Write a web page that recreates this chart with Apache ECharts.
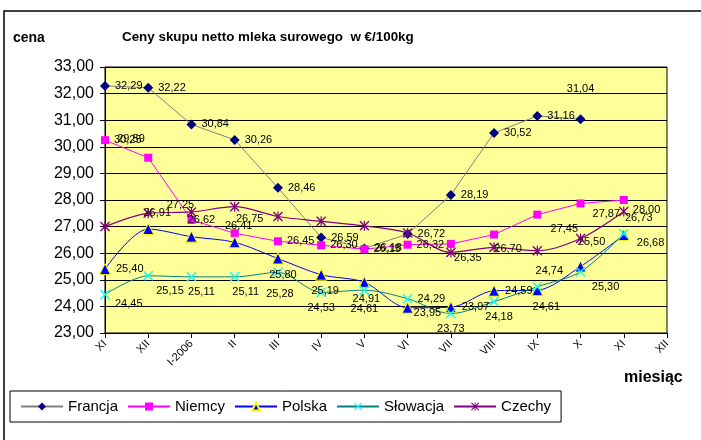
<!DOCTYPE html>
<html>
<head>
<meta charset="utf-8">
<script src="https://cdn.jsdelivr.net/npm/echarts@6/dist/echarts.min.js"></script>
<style>
  html, body { margin: 0; padding: 0; background: #fff; }
  #chart { width: 701px; height: 440px; }
</style>
</head>
<body>
<div id="chart"></div>
<script>
const months = ['XI', 'XII', 'I-2006', 'II', 'III', 'IV', 'V', 'VI', 'VII', 'VIII', 'IX', 'X', 'XI', 'XII']

const francja = [32.29, 32.22, 30.84, 30.26, 28.46, 26.59, 26.18, 26.72, 28.19, 30.52, 31.16, 31.04]
const niemcy = [30.25, 29.59, 27.25, 26.75, 26.45, 26.30, 26.15, 26.32, 26.35, 26.70, 27.45, 27.87, 28.00]
const polska = [25.40, 26.91, 26.62, 26.41, 25.80, 25.19, 24.91, 23.95, 23.97, 24.59, 24.61, 25.50, 26.68]
const slowacja = [24.45, 25.15, 25.11, 25.11, 25.28, 24.53, 24.61, 24.29, 23.73, 24.18, 24.74, 25.30, 26.73]
const czechy = [27.00, 27.50, 27.55, 27.75, 27.38, 27.20, 27.03, 26.76, 26.03, 26.22, 26.09, 26.55, 27.57]

const yTicks = { min: 23, max: 33, step: 1 }

const FONT = '"Liberation Sans", Arial, sans-serif'
const fmt = (v) => v.toFixed(2).replace('.', ',')

// label placement: default per series, a few points moved like in the sheet
function withLabels(values, tweaks) {
  return values.map((v, i) => {
    const t = tweaks[i]
    if (!t) return v
    return { value: v, label: { position: t[0], offset: [t[1], t[2]], distance: t[3] ?? 5 } }
  })
}

const crossPath = 'path://M0,1 L1,0 L5,4 L9,0 L10,1 L6,5 L10,9 L9,10 L5,6 L1,10 L0,9 L4,5 Z'
const starPath = crossPath.replace(' Z', ' Z M4.4,0 L5.6,0 L5.6,10 L4.4,10 Z')

const chart = echarts.init(document.getElementById('chart'), null, { renderer: 'canvas' })

function lineSeries(name, data, labelPos, opts) {
  return Object.assign({
    name,
    type: 'line',
    data,
    symbolSize: 9,
    lineStyle: { width: 1 },
    label: {
      show: true,
      position: labelPos,
      color: '#000',
      fontSize: 11,
      fontFamily: FONT,
      formatter: (p) => fmt(typeof p.value === 'number' ? p.value : p.data.value),
    },
    emphasis: { disabled: true },
    animation: false,
  }, opts)
}

chart.setOption({
  textStyle: { fontFamily: FONT },
  graphic: [
    {
      type: 'rect',
      shape: { x: 4, y: 11, width: 740, height: 460 },
      style: { fill: 'none', stroke: '#000', lineWidth: 1.5 },
      silent: true,
    },
    {
      type: 'text', left: 13, top: 31,
      style: { text: 'cena', font: 'bold 14px ' + FONT, fill: '#000' },
    },
    {
      type: 'text', left: 122, top: 31,
      style: { text: 'Ceny skupu netto mleka surowego  w €/100kg', font: 'bold 13.4px ' + FONT, fill: '#000' },
    },
    {
      type: 'text', left: 624, top: 370,
      style: { text: 'miesiąc', font: 'bold 16px ' + FONT, fill: '#000' },
    },
  ],
  legend: {
    left: 10,
    top: 391,
    padding: [8, 10],
    itemWidth: 42,
    itemHeight: 10,
    itemGap: 9,
    backgroundColor: '#fff',
    borderColor: '#000',
    borderWidth: 1,
    textStyle: { fontSize: 15, color: '#000', fontFamily: FONT },
    data: ['Francja', 'Niemcy', 'Polska', 'Słowacja', 'Czechy'],
  },
  grid: {
    left: 105, right: 34, top: 67, bottom: 107,
    show: true,
    backgroundColor: '#FFFF99',
    borderColor: '#000',
    borderWidth: 1,
  },
  xAxis: {
    type: 'category',
    boundaryGap: false,
    data: months,
    axisLine: { lineStyle: { color: '#000', width: 1 } },
    axisTick: { show: true, interval: 0, length: 5, lineStyle: { color: '#000' } },
    axisLabel: { interval: 0, rotate: 45, fontSize: 11, color: '#000', margin: 9, fontFamily: FONT },
    splitLine: { show: false },
  },
  yAxis: {
    type: 'value',
    min: yTicks.min,
    max: yTicks.max,
    interval: yTicks.step,
    axisLine: { show: true, lineStyle: { color: '#000' } },
    axisTick: { show: true, length: 5, lineStyle: { color: '#000' } },
    axisLabel: { fontSize: 16, color: '#000', margin: 11, fontFamily: FONT, formatter: (v) => fmt(v) },
    splitLine: { lineStyle: { color: '#000', width: 1 } },
  },
  series: [
    lineSeries('Francja', withLabels(francja, { 11: ['top', 0, 0, 20] }), 'right', {
      symbol: 'diamond',
      symbolSize: 10,
      itemStyle: { color: '#000080' },
      lineStyle: { width: 1, color: '#808080' },
    }),
    lineSeries('Niemcy', withLabels(niemcy, {
      1: ['right', -40, -19],
      2: ['top', -11, 0],
      3: ['top', 15, 0],
      8: ['bottom', 17, 0],
      9: ['bottom', 14, 0],
      10: ['bottom', 27, 0],
      11: ['right', 3, 11],
      12: ['right', 0, 10],
    }), 'right', {
      symbol: 'rect',
      symbolSize: 8,
      itemStyle: { color: '#FF00FF' },
      lineStyle: { width: 1, color: '#FF00FF' },
    }),
    lineSeries('Polska', withLabels(polska, {
      0: ['right', 0, 0],
      1: ['top', 9, 0],
      2: ['top', 10, 0],
      3: ['top', 4, 0],
      4: ['bottom', 5, 0],
      5: ['bottom', 4, 0],
      6: ['bottom', 2, 0],
      7: ['right', -5, 5],
      8: ['right', 0, 0],
      9: ['right', 0, 0],
      10: ['bottom', 9, 0],
      11: ['top', 11, -8],
      12: ['right', 2, 8],
    }), 'top', {
      symbol: 'triangle',
      symbolSize: 11,
      smooth: 0.3,
      itemStyle: { color: '#0000FF', borderColor: '#FFFF00', borderWidth: 1 },
      lineStyle: { width: 1, color: '#0000FF' },
    }),
    lineSeries('Słowacja', withLabels(slowacja, {
      0: ['right', 0, 10],
      1: ['right', -2, 15],
      2: ['bottom', 10, 0],
      3: ['bottom', 11, 0],
      4: ['bottom', 2, 6],
      6: ['bottom', 0, 3],
      7: ['right', 0, 0],
      9: ['bottom', 5, 0],
      10: ['top', 12, 0],
      11: ['bottom', 25, 0],
      12: ['top', 15, 0],
    }), 'bottom', {
      symbol: crossPath,
      symbolSize: 10,
      smooth: 0.3,
      itemStyle: { color: '#00FFFF' },
      lineStyle: { width: 1, color: '#008080' },
    }),
    lineSeries('Czechy', czechy, 'right', {
      symbol: starPath,
      symbolSize: 10,
      smooth: 0.3,
      itemStyle: { color: '#800080' },
      lineStyle: { width: 1.2, color: '#800080' },
      label: { show: false },
    }),
  ],
})
</script>
</body>
</html>
